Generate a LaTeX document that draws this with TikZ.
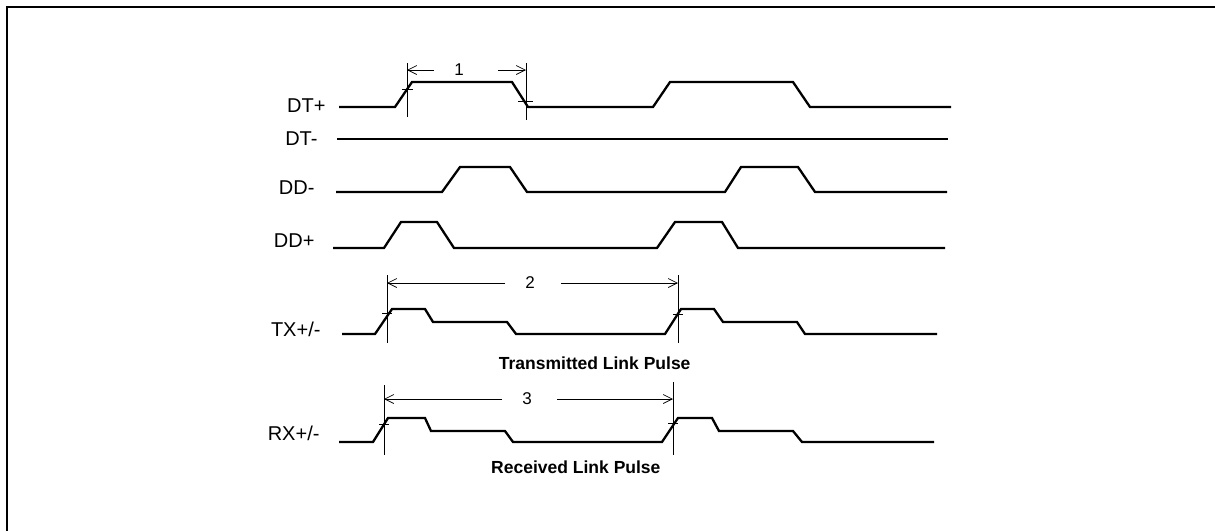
\documentclass[tikz,border=0pt]{standalone}
\usepackage{fontspec}
\setmainfont{Liberation Sans}
\usetikzlibrary{arrows.meta}
\tikzset{
  wave/.style={line width=2.3pt, line join=miter},
  dim/.style={line width=0.7pt},
  dimarrow/.style={dim, -{Straight Barb[length=9pt,width=9pt]}},
  siglabel/.style={anchor=east, font=\fontsize{20}{20}\selectfont},
  dimlabel/.style={font=\fontsize{17}{17}\selectfont},
  caption/.style={anchor=east, font=\fontsize{17.5}{17.5}\selectfont\bfseries}
}
\begin{document}
\begin{tikzpicture}[x=1pt, y=-1pt]
	\useasboundingbox (0,0) rectangle (1215,531);
	\draw[line width=2pt] (7,531) -- (7,7) -- (1215,7);
	% signal names
	\node[siglabel] (dtp) at (329,106) {DT+};
	\node[siglabel] (dtm) at (321,139) {DT-};
	\node[siglabel] (ddm) at (318,188) {DD-};
	\node[siglabel] (ddp) at (318,241) {DD+};
	\node[siglabel] (tx) at (324,329) {TX+/-};
	\node[siglabel] (rx) at (323,433) {RX+/-};
	% waveforms
	\draw[wave] (339,107) -- (395,107) -- (412,82) -- (512,82) -- (528,107) -- (653,107) -- (670,82) -- (793,82) -- (810,107) -- (951,107);
	\draw[wave] (337,139) -- (948,139);
	\draw[wave] (336,192) -- (442,192) -- (460,167) -- (510,167) -- (527,192) -- (725,192) -- (741,167) -- (798,167) -- (815,192) -- (947,192);
	\draw[wave] (333,248) -- (384,248) -- (401,222) -- (437,222) -- (454,248) -- (657,248) -- (675,222) -- (722,222) -- (738,248) -- (945,248);
	\draw[wave] (342,334) -- (375,334) -- (392,309) -- (425,309) -- (433,322) -- (507,322) -- (516,334) -- (665,334) -- (681,309) -- (714,309) -- (723,322) -- (797,322) -- (805,334) -- (937,334);
	\draw[wave] (339,442) -- (373,442) -- (388,418) -- (425,418) -- (431,431) -- (505,431) -- (513,442) -- (662,442) -- (678,418) -- (712,418) -- (719,431) -- (793,431) -- (802,442) -- (934,442);
	% dimension 1
	\draw[dim] (407,63) -- (407,117);
	\draw[dim] (526,63) -- (526,120);
	\draw[dim] (402,89) -- (413,89);
	\draw[dim] (518,101) -- (533,101);
	\node[dimlabel] (n1) at (459,70) {1};
	\coordinate (a1l) at (434,70);
	\coordinate (a1r) at (498,70);
	\draw[dimarrow] (a1l) -- (407,70);
	\draw[dimarrow] (a1r) -- (526,70);
	% dimension 2
	\draw[dim] (387,275) -- (387,343);
	\draw[dim] (678,275) -- (678,343);
	\draw[dim] (382,313) -- (392,313);
	\draw[dim] (673,314) -- (683,314);
	\node[dimlabel] (n2) at (530,283) {2};
	\coordinate (a2l) at (505,283);
	\coordinate (a2r) at (561,283);
	\draw[dimarrow] (a2l) -- (387,283);
	\draw[dimarrow] (a2r) -- (678,283);
	% dimension 3
	\draw[dim] (384,385) -- (384,455);
	\draw[dim] (673,382) -- (673,455);
	\draw[dim] (379,424) -- (389,424);
	\draw[dim] (668,423) -- (678,423);
	\node[dimlabel] (n3) at (527,399) {3};
	\coordinate (a3l) at (502,399);
	\coordinate (a3r) at (557,399);
	\draw[dimarrow] (a3l) -- (384,399);
	\draw[dimarrow] (a3r) -- (673,399);
	% captions
	\node[caption] (txcap) at (694,363) {Transmitted Link Pulse};
	\node[caption] (rxcap) at (664,467) {Received Link Pulse};
\end{tikzpicture}
\end{document}
